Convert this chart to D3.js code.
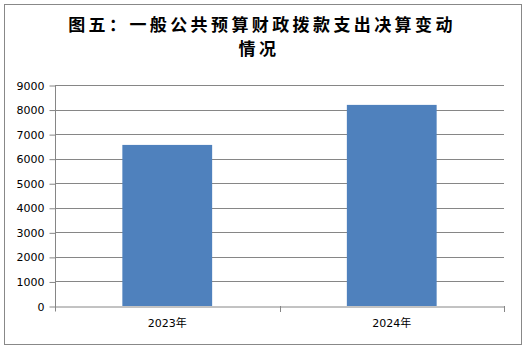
<!DOCTYPE html>
<html>
<head>
<meta charset="utf-8">
<script src="https://cdn.jsdelivr.net/npm/d3@7"></script>
<style>
  body { margin: 0; background: #fff; }
  svg { display: block; }
</style>
</head>
<body>
<svg id="chart" width="528" height="350"></svg>
<script>
// data
var categories = ["2023年", "2024年"];
var values = [6560, 8190];
var yTicks = [0, 1000, 2000, 3000, 4000, 5000, 6000, 7000, 8000, 9000];
var titleLines = ["图五：一般公共预算财政拨款支出决算变动", "情况"];

var svg = d3.select("#chart");
var W = 528, H = 350;

// outer frame
svg.append("rect")
    .attr("x", 4.5).attr("y", 4.5)
    .attr("width", 517).attr("height", 340)
    .attr("fill", "#fff")
    .attr("stroke", "#888").attr("stroke-width", 1);

var PLOT_LEFT = 55, PLOT_RIGHT = 504, PLOT_TOP = 85, PLOT_BOTTOM = 306;

var x = d3.scaleBand()
    .domain(categories)
    .range([PLOT_LEFT, PLOT_RIGHT])
    .paddingInner(0.6)
    .paddingOuter(0.3);

var xOuter = d3.scaleBand()
    .domain(categories)
    .range([PLOT_LEFT, PLOT_RIGHT]);

var y = d3.scaleLinear()
    .domain([0, 9000])
    .range([PLOT_BOTTOM, PLOT_TOP]);

// gridlines
svg.append("g")
    .selectAll("line")
    .data(yTicks.slice(1))
    .enter()
    .append("line")
    .attr("x1", PLOT_LEFT).attr("x2", PLOT_RIGHT)
    .attr("y1", function(d){ return Math.round(y(d)) + 0.5 })
    .attr("y2", function(d){ return Math.round(y(d)) + 0.5 })
    .style("stroke", "#868686")
    .style("stroke-width", 1);

// bars
svg.append("g")
    .selectAll("rect")
    .data(values)
    .enter()
    .append("rect")
    .attr("x", function(d, i){ return x(categories[i]) })
    .attr("width", x.bandwidth())
    .attr("y", function(d){ return y(d) })
    .attr("height", function(d){ return y(0) - y(d) })
    .attr("fill", "#4F81BD");

// y axis
var yAxis = d3.axisLeft(y)
    .tickValues(yTicks)
    .tickFormat(d3.format("d"))
    .tickSize(6)
    .tickPadding(5)
    .tickSizeOuter(0);

var gy = svg.append("g")
    .attr("transform", "translate(" + (PLOT_LEFT + 0.5) + ",0.5)")
    .call(yAxis);
gy.select(".domain").attr("stroke", "#868686").attr("d", "M0," + (PLOT_TOP - 0.5) + "V" + (PLOT_BOTTOM + 5));
gy.selectAll(".tick line").attr("stroke", "#868686");
gy.selectAll(".tick text")
    .style("font-family", "DejaVu Sans, Verdana, sans-serif")
    .style("font-size", "11px")
    .attr("fill", "#000");

// x axis
var xAxis = d3.axisBottom(xOuter)
    .tickSize(0)
    .tickPadding(13)
    .tickSizeOuter(0);

var gx = svg.append("g")
    .attr("transform", "translate(0," + (PLOT_BOTTOM + 0.5) + ")")
    .call(xAxis);
gx.select(".domain").attr("stroke", "#868686");
gx.selectAll(".tick text")
    .style("font-family", "DejaVu Sans, 'Noto Sans CJK SC', sans-serif")
    .style("font-size", "11px")
    .attr("fill", "#000");

// category divider ticks
var dividers = categories.slice(1).map(function(c){ return xOuter(c) }).concat([PLOT_RIGHT]);
svg.append("g")
    .selectAll("line")
    .data(dividers)
    .enter()
    .append("line")
    .attr("x1", function(d){ return Math.round(d) + 0.5 })
    .attr("x2", function(d){ return Math.round(d) + 0.5 })
    .attr("y1", PLOT_BOTTOM)
    .attr("y2", PLOT_BOTTOM + 6)
    .style("stroke", "#868686");

// title
svg.append("text")
    .attr("x", W / 2)
    .attr("y", 31)
    .attr("text-anchor", "middle")
    .style("font-family", "'Noto Sans CJK SC', sans-serif")
    .style("font-weight", "bold")
    .style("font-size", "17px")
    .selectAll("tspan")
    .data(titleLines)
    .enter()
    .append("tspan")
    .attr("x", function(d, i){ return i == 0 ? W / 2 - 2 : W / 2 - 5 })
    .attr("dy", function(d, i){ return i == 0 ? 0 : 24 })
    .style("letter-spacing", "3.4px")
    .text(function(d){ return d });
</script>
</body>
</html>
